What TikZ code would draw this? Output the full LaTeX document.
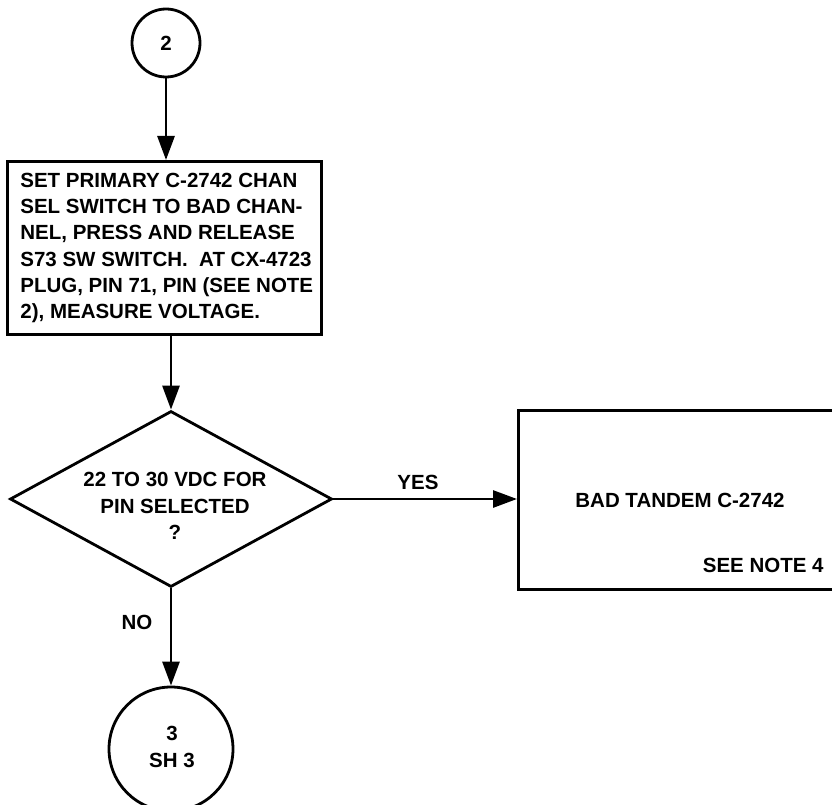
\documentclass[tikz,border=0pt]{standalone}
\usepackage{fontspec}
\setmainfont{Liberation Sans}
\usetikzlibrary{arrows.meta,shapes.geometric}
\begin{document}
\begin{tikzpicture}[x=1pt,y=-1pt,line width=2.8pt,
  every node/.style={font=\fontsize{20.5}{26.3}\selectfont\bfseries},
  arr/.style={-{Triangle[length=24pt,width=17pt]}},
  conn/.style={draw,circle,inner sep=0pt,align=center},
  stepbox/.style={draw,rectangle,inner sep=0pt},
  lbl/.style={inner sep=0pt}]
\useasboundingbox[fill=white] (0,0) rectangle (832,805);
\node[conn,minimum size=68pt] (c2) at (166,43) {2};
\node[stepbox,anchor=north west,minimum width=314pt,minimum height=173pt] (b1) at (6,160) {};
\node[lbl,anchor=west,align=left] (t1) at (19,248) {SET PRIMARY C-2742 CHAN\\SEL SWITCH TO BAD CHAN-\\NEL, PRESS AND RELEASE\\S73 SW SWITCH.\ \ AT CX-4723\\PLUG, PIN 71, PIN (SEE NOTE\\2), MEASURE VOLTAGE.};
\node[draw,diamond,inner sep=0pt,minimum width=322pt,minimum height=176pt] (d) at (171,499) {};
\node[lbl,align=center] (dt) at (175,506) {22 TO 30 VDC FOR\\PIN SELECTED\\?};
\node[stepbox,anchor=north west,minimum width=340pt,minimum height=179pt] (b2) at (517,409) {};
\node[lbl] (bt) at (680,500) {BAD TANDEM C-2742};
\node[lbl,anchor=east] (sn) at (825,565) {SEE NOTE 4};
\node[conn,minimum size=124pt] (c3) at (171,749) {};
\node[lbl,align=center] (c3t) at (172,747) {3\\SH 3};
\draw[arr] (c2) -- (c2 |- b1.north);
\draw[arr] (d.north |- b1.south) -- (d.north);
\draw[arr] (d.east) -- (d.east -| b2.west);
\draw[arr] (d.south) -- (c3.north);
\node[lbl] (yes) at (418,482) {YES};
\node[lbl] (no) at (137,622) {NO};
\end{tikzpicture}
\end{document}
